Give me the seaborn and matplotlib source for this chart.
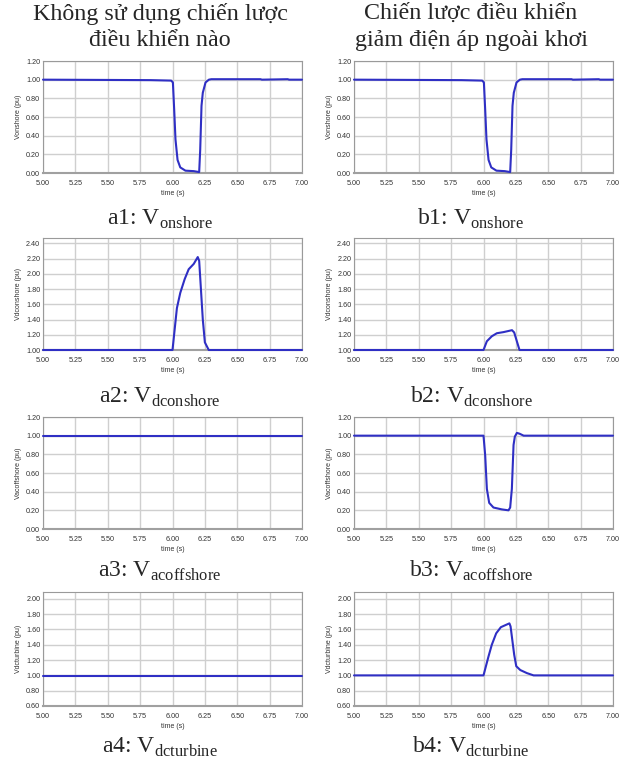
import matplotlib
matplotlib.use('Agg')
import matplotlib.pyplot as plt
import numpy as np
import pandas as pd
import seaborn as sns

# ---- data ----
t_onshore = [5.00, 5.83, 5.99, 6.003, 6.013, 6.023, 6.039, 6.06, 6.10, 6.164, 6.206,
             6.214, 6.224, 6.234, 6.255, 6.281, 6.30, 6.68, 6.69, 6.89, 6.90, 7.00]
v_onshore = [1.00, 0.995, 0.99, 0.97, 0.68, 0.36, 0.14, 0.06, 0.025, 0.02, 0.01,
             0.25, 0.72, 0.86, 0.97, 1.00, 1.005, 1.005, 1.0, 1.005, 1.0, 1.0]

t_dc_a = [5.00, 6.00, 6.034, 6.06, 6.094, 6.125, 6.164, 6.195, 6.206, 6.234, 6.25, 6.28, 7.00]
v_dc_a = [1.00, 1.00, 1.55, 1.75, 1.93, 2.06, 2.13, 2.22, 2.17, 1.40, 1.10, 1.00, 1.00]

t_dc_b = [5.00, 6.00, 6.026, 6.064, 6.103, 6.155, 6.22, 6.237, 6.278, 7.00]
v_dc_b = [1.00, 1.00, 1.115, 1.18, 1.22, 1.235, 1.26, 1.23, 1.00, 1.00]

t_acoff_a = [5.00, 7.00]
v_acoff_a = [0.995, 0.995]

t_acoff_b = [5.00, 6.00, 6.013, 6.026, 6.044, 6.077, 6.142, 6.193, 6.206, 6.219, 6.232,
             6.242, 6.258, 6.28, 6.31, 7.00]
v_acoff_b = [1.00, 1.00, 0.79, 0.43, 0.28, 0.23, 0.21, 0.20, 0.23, 0.43, 0.90,
             0.99, 1.03, 1.02, 1.00, 1.00]

t_turb_a = [5.00, 7.00]
v_turb_a = [0.995, 0.995]

t_turb_b = [5.00, 6.00, 6.039, 6.064, 6.098, 6.134, 6.173, 6.20, 6.209, 6.237, 6.253,
            6.284, 6.335, 6.387, 7.00]
v_turb_b = [1.00, 1.00, 1.25, 1.40, 1.55, 1.63, 1.66, 1.68, 1.64, 1.27, 1.12,
            1.07, 1.03, 1.00, 1.00]

col_titles = ['Không sử dụng chiến lược\nđiều khiển nào',
              'Chiến lược điều khiển\ngiảm điện áp ngoài khơi']
y_labels = ['Vonshore (pu)', 'Vdconshore (pu)', 'Vacoffshore (pu)', 'Vdcturbine (pu)']
subs = ['onshore', 'dconshore', 'acoffshore', 'dcturbine']
x_ticks = [5.00, 5.25, 5.50, 5.75, 6.00, 6.25, 6.50, 6.75, 7.00]
y_ticks = [np.arange(0, 1.21, 0.2), np.arange(1.0, 2.41, 0.2),
           np.arange(0, 1.21, 0.2), np.arange(0.6, 2.01, 0.2)]
y_lims = [(0, 1.2), (1.0, 2.47), (0, 1.2), (0.6, 2.09)]

series = [[(t_onshore, v_onshore), (t_onshore, v_onshore)],
          [(t_dc_a, v_dc_a), (t_dc_b, v_dc_b)],
          [(t_acoff_a, v_acoff_a), (t_acoff_b, v_acoff_b)],
          [(t_turb_a, v_turb_a), (t_turb_b, v_turb_b)]]

sns.set_style('white')
plt.rcParams['font.family'] = ['Liberation Sans', 'DejaVu Sans']
plt.rcParams['mathtext.fontset'] = 'custom'
plt.rcParams['mathtext.rm'] = 'Liberation Serif'

W, H = 619, 768
fig = plt.figure(figsize=(W / 100, H / 100), dpi=100)

col_left = [43, 354]
col_w = 259
rows = [(61, 173), (238, 350), (417, 529), (592, 706)]
caption_y = [219, 397, 571, 747]
title_x = [160, 471]

for r in range(4):
    top, bot = rows[r]
    for c in range(2):
        ax = fig.add_axes([col_left[c] / W, 1 - bot / H, col_w / W, (bot - top) / H])
        t, v = series[r][c]
        df = pd.DataFrame({'time': t, 'value': v})
        sns.lineplot(data=df, x='time', y='value', ax=ax, color='#2f2fc4', linewidth=1.5)
        for ln in ax.lines:
            ln.set_clip_on(False)
            ln.set_zorder(5)
        ax.set_xlim(5.0, 7.0)
        ax.set_ylim(*y_lims[r])
        ax.set_xticks(x_ticks)
        ax.set_xticklabels(['%.2f' % x for x in x_ticks], fontsize=5.2, color='#333333')
        ax.set_yticks(y_ticks[r])
        ax.set_yticklabels(['%.2f' % y for y in y_ticks[r]], fontsize=5.2, color='#333333')
        ax.tick_params(axis='y', length=0, pad=2)
        ax.tick_params(axis='x', length=0, pad=5)
        ax.grid(True, color='#cfcfcf', linewidth=1.0)
        ax.set_axisbelow(True)
        for s in ['left', 'right', 'top']:
            ax.spines[s].set_color('#9a9a9a')
            ax.spines[s].set_linewidth(0.8)
        ax.spines['bottom'].set_color('#a0a0a0')
        ax.spines['bottom'].set_linewidth(1.5)
        ax.set_xlabel('time (s)', fontsize=5, color='#333333', labelpad=2)
        ax.set_ylabel(y_labels[r], fontsize=5, color='#333333', labelpad=3)
        fig.text(title_x[c] / W, 1 - caption_y[r] / H,
                 '%s%d: $\\mathrm{V}_{\\mathrm{%s}}$' % ('ab'[c], r + 1, subs[r]),
                 ha='center', va='center', fontsize=17, family='Liberation Serif')

for c in range(2):
    fig.text(title_x[c] / W, 1 - 27 / H, col_titles[c], ha='center', va='center',
             fontsize=17.3, family='Liberation Serif', linespacing=1.35)

fig.savefig('out.png', dpi=100, facecolor='white')
